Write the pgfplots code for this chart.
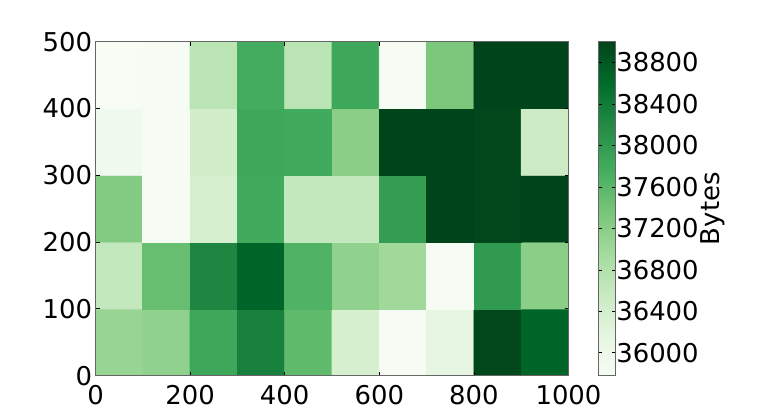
\documentclass[border=0pt]{standalone}
\usepackage{fontspec}
\setmainfont{DejaVu Sans}
\usepackage{pgfplots}
\pgfplotsset{compat=1.18}
\pgfplotsset{
  /pgf/number format/assume math mode=true,
  /pgf/number format/set thousands separator={},
  tick label style={font=\fontsize{13}{15}\selectfont},
  label style={font=\fontsize{13}{15}\selectfont},
}
\begin{document}
\begin{tikzpicture}
\useasboundingbox (-47.75bp,-21.15bp) rectangle (333.75bp,187.85bp);
\begin{axis}[
  at={(0,0)}, anchor=south west, scale only axis,
  width=236.5bp, height=167bp,
  xmin=0, xmax=1000, ymin=0, ymax=500,
  enlargelimits=false, axis on top=true,
  xtick={0,200,...,1000}, ytick={0,100,...,500},
  tick align=inside, major tick length=2bp,
  tick style={black, line width=0.4bp},
  axis line style={black!60, line width=0.6bp},
  xticklabel style={inner sep=0pt, yshift=-4.6bp},
  yticklabel style={inner sep=0pt, xshift=-1.5bp},
  colormap={greens}{rgb255(0cm)=(247,252,245); rgb255(1cm)=(229,245,224); rgb255(2cm)=(199,233,192); rgb255(3cm)=(161,217,155); rgb255(4cm)=(116,196,118); rgb255(5cm)=(65,171,93); rgb255(6cm)=(35,139,69); rgb255(7cm)=(0,109,44); rgb255(8cm)=(0,68,27)},
  point meta min=35780, point meta max=39000,
  colorbar,
  colorbar style={
    at={(parent axis.north east)}, anchor=north west, xshift=6.6bp,
    scale only axis, width=8.3bp, height=167bp,
    ytick={36000,36400,...,38800},
    scaled y ticks=false,
    tick align=inside, major tick length=1.5bp,
    tick style={black, line width=0.4bp},
    axis line style={black!60, line width=0.6bp},
    yticklabel style={inner sep=0pt, xshift=0.3bp},
    ylabel={Bytes},
    every axis y label/.style={at={(rel axis cs:6.886,0.5)}, anchor=center, rotate=90, font=\fontsize{13}{15}\selectfont},
  },
]
\addplot[matrix plot*, mesh/cols=10, point meta=explicit] table[meta=z] {
x y z
50 50 37068
150 50 37132
250 50 37841
350 50 38324
450 50 37551
550 50 36392
650 50 35812
750 50 36134
850 50 38968
950 50 38678
50 150 36617
150 150 37487
250 150 38259
350 150 38678
450 150 37680
550 150 37132
650 150 36988
750 150 35812
850 150 38002
950 150 37197
50 250 37261
150 250 35812
250 250 36392
350 250 37793
450 250 36617
550 250 36617
650 250 37970
750 250 39000
850 250 38968
950 250 39000
50 350 35941
150 350 35812
250 350 36456
350 350 37841
450 350 37793
550 350 37197
650 350 39000
750 350 39000
850 350 38968
950 350 36521
50 450 35790
150 450 35800
250 450 36714
350 450 37776
450 450 36714
550 450 37841
650 450 35812
750 450 37326
850 450 39000
950 450 39000
};
\end{axis}
\end{tikzpicture}
\end{document}
